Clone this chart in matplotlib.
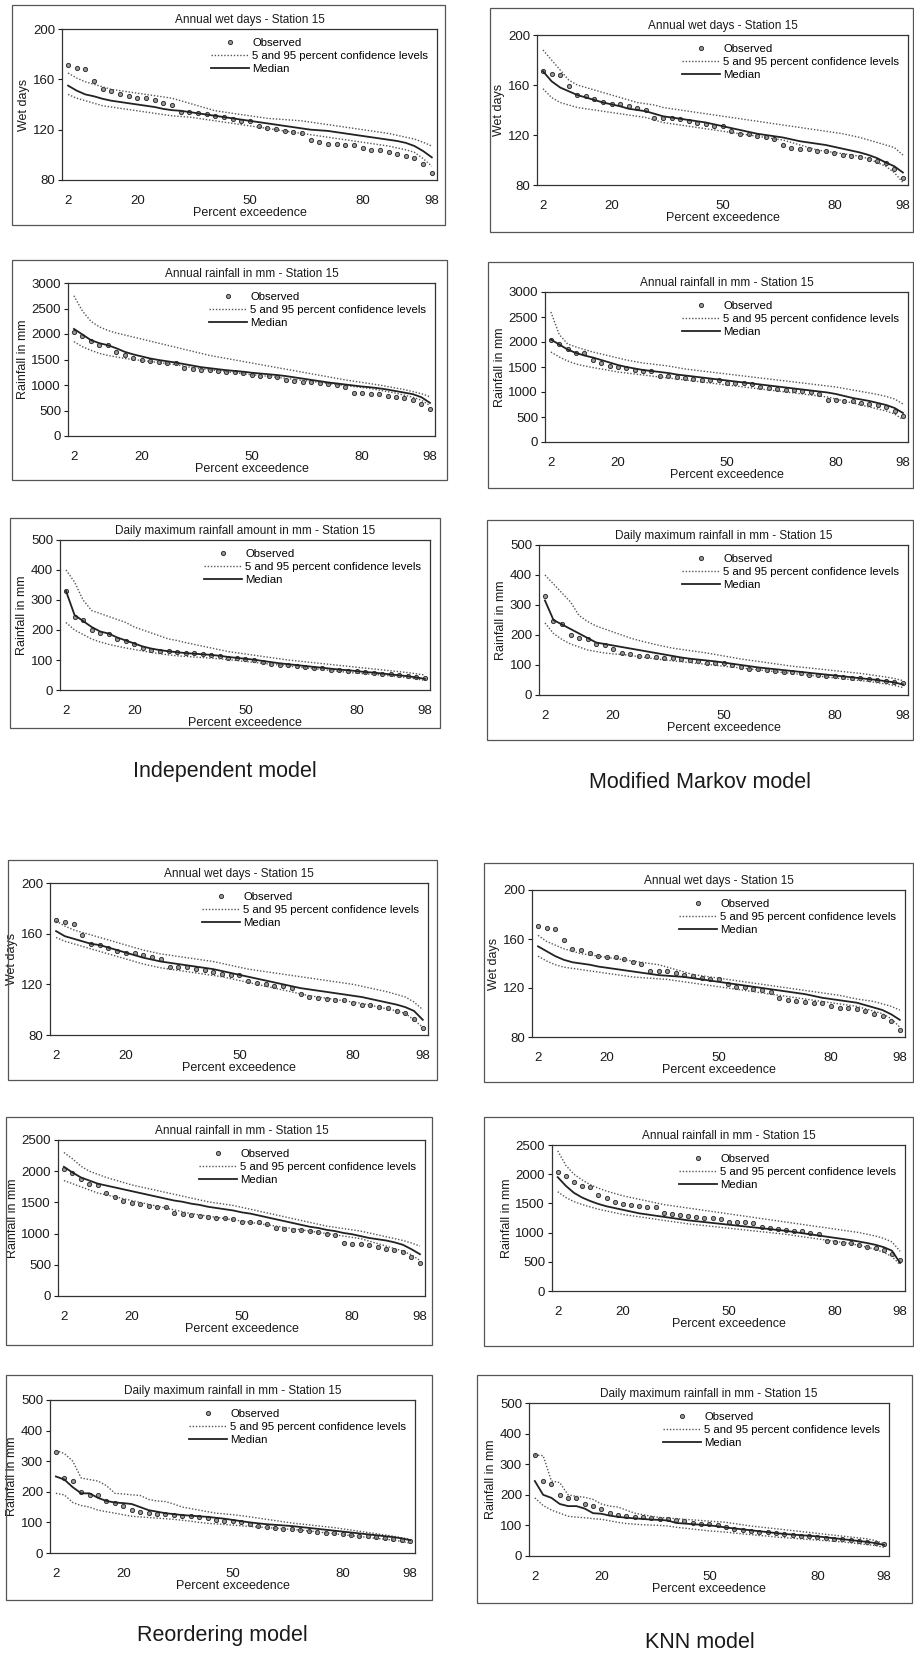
import numpy as np
import matplotlib
matplotlib.use("Agg")
import matplotlib.pyplot as plt
from matplotlib.patches import Rectangle

plt.rcParams['font.family'] = ['Liberation Sans', 'DejaVu Sans']

W, H = 914, 1655

# tick labels of the percent exceedence axis (rank positions 1, 9, 22, 35, 43)
tick_labels = ['2', '20', '50', '80', '98']
tick_ranks = [1, 9, 22, 35, 43]

# observed series (same for all models)
obs_wet = [171, 169, 168, 159, 152, 151, 148.5, 146.5, 145, 145,
           143.5, 141.5, 140, 134, 134, 133.5, 132.5, 131, 130, 128.5,
           127, 127, 123, 121, 120.5, 119, 118.5, 117, 112, 110,
           109, 108.5, 107.5, 107.5, 105.5, 104, 103.5, 102.5, 101, 99,
           97.5, 93, 85.5]
obs_rain = [2040, 1970, 1870, 1790, 1775, 1650, 1590, 1525, 1495, 1475,
            1450, 1430, 1430, 1330, 1315, 1300, 1285, 1265, 1250, 1250,
            1240, 1190, 1180, 1180, 1160, 1095, 1080, 1060, 1050, 1035,
            1020, 1000, 970, 850, 840, 830, 820, 785, 760, 740,
            710, 630, 530]
obs_dmax = [330, 245, 235, 200, 190, 188, 170, 165, 152, 140,
            135, 130, 129, 126, 124, 122, 121, 118, 114, 108,
            106, 105, 100, 94, 88, 85, 83, 79, 77, 75,
            73, 68, 66, 64, 62, 59, 57, 55, 52, 49,
            46, 44, 40]

# Independent model
indep_wet_lo = [148, 145, 143, 141, 139, 138, 137, 136, 135, 134,
                133, 132, 131, 130.5, 130, 129, 128, 127, 126, 125,
                124, 123, 122, 121, 120, 119, 118, 117, 116, 115,
                114, 113, 112, 111, 110, 109, 108, 107, 105.5, 104,
                102, 97, 91]
indep_wet_med = [155, 151, 148, 146.5, 144.5, 143, 142, 141, 140, 139,
                 138, 136.5, 135.5, 135, 134, 133, 132, 131, 130, 129,
                 128, 127, 126, 125, 124, 123, 122, 121, 120, 119.5,
                 119, 118, 117, 116, 115, 114, 113, 112, 111, 109.5,
                 107, 103, 98]
indep_wet_hi = [165, 161, 158, 156, 154, 152, 151, 150, 149, 148,
                147, 146, 145, 143, 141, 139, 137, 135, 134, 133,
                132, 131, 130, 129, 128.5, 128, 127.5, 127, 126, 125,
                124, 123, 122, 121, 120, 119, 118, 117, 115.5, 114,
                112.5, 110, 107]
indep_rain_lo = [1850, 1750, 1680, 1620, 1580, 1550, 1520, 1500, 1480, 1460,
                 1440, 1420, 1400, 1370, 1340, 1320, 1300, 1280, 1260, 1240,
                 1220, 1200, 1185, 1170, 1150, 1130, 1110, 1090, 1070, 1050,
                 1030, 1010, 990, 970, 950, 930, 900, 870, 840, 800,
                 760, 700, 600]
indep_rain_med = [2100, 1990, 1880, 1820, 1780, 1720, 1650, 1600, 1560, 1520,
                  1490, 1465, 1440, 1410, 1380, 1350, 1330, 1310, 1290, 1275,
                  1260, 1240, 1225, 1210, 1195, 1175, 1150, 1125, 1100, 1075,
                  1050, 1030, 1010, 990, 970, 955, 935, 910, 880, 850,
                  820, 760, 650]
indep_rain_hi = [2750, 2450, 2250, 2140, 2070, 2020, 1980, 1940, 1900, 1860,
                 1820, 1780, 1740, 1700, 1660, 1620, 1580, 1550, 1520, 1490,
                 1460, 1430, 1400, 1370, 1340, 1310, 1280, 1250, 1220, 1190,
                 1160, 1130, 1100, 1075, 1050, 1025, 1000, 970, 940, 910,
                 870, 830, 770]
indep_dmax_lo = [225, 200, 185, 170, 160, 152, 146, 140, 135, 130,
                 125, 121, 117, 114, 112, 110, 108, 106, 104, 101,
                 98, 95, 92, 89, 86, 83, 80, 77, 74, 71,
                 68, 65, 62, 59, 56, 54, 52, 50, 47, 44,
                 41, 37, 32]
indep_dmax_med = [330, 250, 230, 210, 195, 188, 175, 165, 155, 145,
                  138, 133, 129, 126, 123, 121, 119, 117, 114, 110,
                  107, 104, 101, 97, 93, 89, 86, 83, 80, 77,
                  74, 71, 68, 66, 63, 60, 58, 55, 52, 49,
                  46, 42, 37]
indep_dmax_hi = [400, 360, 300, 265, 255, 245, 235, 225, 210, 200,
                 190, 180, 170, 165, 158, 152, 146, 140, 134, 128,
                 124, 120, 116, 112, 108, 104, 100, 97, 94, 91,
                 88, 85, 82, 79, 76, 73, 70, 67, 64, 61,
                 58, 54, 50]

# Modified Markov model
markov_wet_lo = [157, 150, 146, 144, 142, 141, 140, 139, 138, 137,
                 136, 135, 134, 132, 130, 129, 128, 127, 126, 125,
                 124, 123, 122, 121, 120, 119, 118, 117, 116, 114,
                 112, 110, 108, 107, 106, 105, 104, 103, 101, 98,
                 95, 90, 82]
markov_wet_med = [171, 163, 158, 155, 152, 150, 148, 146, 144.5, 143,
                  141, 140, 139, 137, 135, 134, 133, 132, 131, 130,
                  128.5, 127, 125.5, 124, 122.5, 121, 120, 119, 118, 116.5,
                  115, 114, 113, 112, 110.5, 109, 107.5, 106, 104, 101.5,
                  98, 95, 90]
markov_wet_hi = [188, 180, 172, 164, 160, 158, 156, 154, 152, 150,
                 148, 146, 145, 144, 142, 141, 140, 139, 138, 137,
                 136, 135, 134, 133, 132, 131, 130, 129, 128, 127,
                 126, 125, 124, 123, 122, 121, 119.5, 118, 116, 114,
                 112, 110, 104]
markov_rain_lo = [1800, 1700, 1620, 1560, 1520, 1490, 1460, 1430, 1400, 1380,
                  1360, 1340, 1320, 1300, 1280, 1260, 1240, 1220, 1200, 1180,
                  1160, 1140, 1120, 1100, 1080, 1060, 1040, 1020, 1000, 980,
                  960, 940, 920, 900, 860, 820, 780, 740, 700, 660,
                  620, 560, 450]
markov_rain_med = [2050, 1950, 1850, 1780, 1730, 1690, 1640, 1590, 1540, 1500,
                   1470, 1440, 1420, 1400, 1380, 1350, 1330, 1310, 1290, 1270,
                   1250, 1230, 1210, 1190, 1170, 1150, 1130, 1110, 1090, 1070,
                   1050, 1030, 1010, 990, 960, 920, 880, 850, 820, 780,
                   740, 680, 580]
markov_rain_hi = [2600, 2150, 1960, 1900, 1850, 1800, 1760, 1720, 1680, 1640,
                  1610, 1580, 1560, 1540, 1520, 1490, 1460, 1440, 1420, 1400,
                  1380, 1360, 1340, 1320, 1300, 1280, 1260, 1240, 1220, 1200,
                  1180, 1160, 1140, 1120, 1100, 1070, 1040, 1010, 980, 950,
                  910, 860, 760]
markov_dmax_lo = [240, 205, 185, 170, 160, 150, 145, 140, 137, 135,
                  132, 128, 124, 120, 117, 114, 111, 108, 105, 102,
                  99, 96, 93, 90, 87, 84, 81, 78, 75, 72,
                  69, 66, 63, 60, 57, 54, 51, 48, 45, 41,
                  37, 32, 25]
markov_dmax_med = [315, 250, 235, 220, 205, 190, 175, 170, 165, 160,
                   155, 150, 145, 140, 135, 130, 125, 121, 118, 115,
                   112, 108, 104, 100, 96, 92, 89, 86, 83, 80,
                   77, 74, 71, 68, 65, 62, 59, 56, 53, 50,
                   46, 42, 35]
markov_dmax_hi = [400, 370, 340, 310, 265, 245, 230, 220, 210, 200,
                  190, 182, 175, 168, 162, 156, 152, 148, 144, 140,
                  135, 130, 125, 120, 116, 112, 108, 104, 100, 96,
                  93, 90, 87, 84, 81, 78, 75, 72, 68, 64,
                  60, 55, 48]

# Reordering model
reorder_wet_lo = [157, 154, 152, 150, 148, 146, 144, 142, 140, 138,
                  136, 134.5, 133, 132, 131, 130, 129, 128, 127, 126,
                  124.5, 123, 121.5, 120, 118.5, 117, 115.5, 114, 112.5, 111,
                  110, 109, 108, 107, 106, 105, 103.5, 102, 100.5, 99,
                  97, 92, 86]
reorder_wet_med = [162, 158, 156, 154, 152, 151, 149, 147, 145, 143,
                   141, 139.5, 138, 137, 136, 135, 134, 133, 132, 130.5,
                   129, 127.5, 126, 124.5, 123, 121.5, 120, 118.5, 117, 116,
                   115, 114, 113, 112, 111, 110, 108.5, 107, 105.5, 104,
                   102, 99, 92]
reorder_wet_hi = [170, 166, 163, 161, 159, 157, 155, 153, 151, 149,
                  147, 145.5, 144, 143, 142, 141, 140, 139, 138, 136.5,
                  135, 133.5, 132, 131, 130, 129, 128, 127, 126, 125,
                  124, 123, 122, 121, 120, 118.5, 117, 115.5, 114, 112,
                  110, 106, 100]
reorder_rain_lo = [1850, 1800, 1750, 1700, 1650, 1620, 1590, 1560, 1530, 1500,
                   1470, 1440, 1410, 1380, 1350, 1320, 1300, 1280, 1260, 1240,
                   1220, 1200, 1180, 1160, 1140, 1120, 1100, 1080, 1060, 1040,
                   1020, 1000, 980, 960, 940, 920, 880, 840, 800, 760,
                   720, 660, 570]
reorder_rain_med = [2070, 1980, 1900, 1850, 1800, 1770, 1740, 1710, 1680, 1650,
                    1620, 1590, 1560, 1530, 1510, 1480, 1460, 1430, 1410, 1390,
                    1370, 1340, 1320, 1290, 1260, 1230, 1200, 1170, 1140, 1110,
                    1090, 1060, 1040, 1010, 990, 960, 930, 910, 890, 860,
                    820, 750, 670]
reorder_rain_hi = [2300, 2200, 2080, 2000, 1950, 1900, 1860, 1820, 1780, 1750,
                   1720, 1690, 1660, 1630, 1600, 1570, 1540, 1510, 1490, 1470,
                   1450, 1420, 1390, 1360, 1330, 1300, 1270, 1240, 1210, 1180,
                   1150, 1120, 1100, 1080, 1060, 1040, 1010, 980, 950, 920,
                   890, 850, 800]
reorder_dmax_lo = [195, 190, 165, 155, 150, 140, 135, 130, 125, 120,
                   118, 116, 114, 112, 110, 107, 104, 100, 97, 95,
                   93, 91, 89, 87, 85, 83, 81, 79, 77, 75,
                   72, 69, 66, 63, 60, 57, 54, 51, 48, 45,
                   42, 38, 32]
reorder_dmax_med = [250, 240, 215, 195, 195, 180, 170, 165, 163, 160,
                    150, 140, 135, 130, 127, 124, 122, 120, 118, 115,
                    112, 108, 104, 100, 97, 94, 92, 90, 88, 85,
                    82, 79, 76, 73, 70, 67, 64, 61, 58, 55,
                    52, 48, 42]
reorder_dmax_hi = [335, 325, 300, 245, 240, 235, 220, 195, 193, 190,
                   188, 175, 170, 168, 160, 150, 145, 140, 135, 130,
                   128, 125, 122, 118, 114, 110, 106, 102, 98, 95,
                   92, 89, 86, 83, 79, 75, 71, 67, 63, 59,
                   55, 50, 45]

# KNN model
knn_wet_lo = [146, 142, 139, 137, 136, 135, 134, 133, 132, 131,
              130, 129, 128.5, 128, 127.5, 127, 126, 125, 124, 123,
              122, 121, 120, 119, 118, 117, 116, 115, 114, 113,
              112, 111, 110, 109, 108, 107, 106, 105, 103, 101,
              99, 95, 88]
knn_wet_med = [154, 150, 146, 143, 141, 140, 139, 137.5, 136.5, 135.5,
               134.5, 133.5, 132.5, 131.5, 130.5, 130, 129.5, 129, 128, 127,
               126, 125, 124, 123, 122, 121, 120, 119, 118, 117,
               116, 115, 113.5, 112, 111, 110, 109, 108, 106, 104,
               102, 98.5, 94]
knn_wet_hi = [163, 158, 155, 152, 150, 148, 147, 146, 145, 144,
              143, 142, 141, 140, 139, 137, 135, 133, 131, 130,
              129, 128, 127, 126, 125, 124, 123, 122, 121, 120,
              119, 118, 117, 116, 115, 114, 112.5, 111, 110, 109,
              107, 105, 102]
knn_rain_lo = [1700, 1600, 1530, 1480, 1440, 1400, 1370, 1340, 1310, 1290,
               1270, 1250, 1230, 1210, 1190, 1170, 1150, 1135, 1120, 1105,
               1090, 1075, 1060, 1045, 1030, 1015, 1000, 985, 970, 950,
               930, 910, 890, 870, 850, 830, 810, 780, 750, 710,
               660, 590, 450]
knn_rain_med = [1950, 1800, 1680, 1600, 1540, 1490, 1450, 1420, 1390, 1360,
                1330, 1310, 1290, 1270, 1250, 1230, 1210, 1195, 1180, 1165,
                1150, 1135, 1120, 1105, 1090, 1075, 1060, 1045, 1030, 1010,
                990, 970, 950, 930, 910, 890, 870, 845, 820, 790,
                750, 690, 480]
knn_rain_hi = [2400, 2150, 2000, 1900, 1820, 1760, 1710, 1670, 1630, 1600,
               1570, 1540, 1510, 1480, 1460, 1440, 1420, 1400, 1380, 1360,
               1340, 1320, 1300, 1280, 1260, 1240, 1220, 1200, 1180, 1160,
               1140, 1120, 1100, 1080, 1060, 1040, 1020, 1000, 970, 940,
               900, 840, 680]
knn_dmax_lo = [190, 165, 150, 140, 130, 127, 125, 122, 120, 115,
               110, 106, 104, 102, 101, 100, 98, 94, 91, 88,
               85, 82, 80, 78, 75, 72, 70, 67, 65, 62,
               60, 58, 56, 54, 52, 50, 48, 46, 43, 40,
               37, 34, 28]
knn_dmax_med = [245, 200, 190, 170, 163, 163, 155, 140, 138, 132,
                128, 125, 123, 121, 119, 118, 116, 108, 106, 104,
                102, 100, 97, 93, 90, 87, 84, 81, 78, 75,
                72, 70, 68, 66, 64, 61, 58, 55, 52, 49,
                46, 42, 36]
knn_dmax_hi = [330, 328, 245, 240, 200, 195, 192, 185, 170, 163,
               160, 150, 140, 135, 130, 126, 124, 122, 120, 118,
               116, 114, 112, 110, 106, 102, 98, 95, 92, 89,
               86, 83, 80, 77, 74, 71, 68, 65, 62, 59,
               56, 50, 40]

rank = np.arange(1, len(obs_wet) + 1)

fig = plt.figure(figsize=(W / 100, H / 100), dpi=100)
fig.patch.set_facecolor('white')


def px_rect(l, t, r, b):
    return [l / W, 1 - b / H, (r - l) / W, (b - t) / H]


def panel(plot_px, frame_px, title, ylabel, ylim, ystep, obs, lo, med, hi):
    l, t, r, b = frame_px
    fig.patches.append(Rectangle((l / W, 1 - b / H), (r - l) / W, (b - t) / H,
                                 transform=fig.transFigure, fill=False,
                                 edgecolor='#555555', linewidth=0.9))
    ax = fig.add_axes(px_rect(*plot_px))
    p_obs, = ax.plot(rank, obs, linestyle='none', marker='o', markersize=3.0,
                     markerfacecolor='#999999', markeredgecolor='#333333',
                     markeredgewidth=0.7)
    p_ci, = ax.plot(rank, lo, color='#555555', linestyle=(0, (1, 1.3)), lw=1.0)
    ax.plot(rank, hi, color='#555555', linestyle=(0, (1, 1.3)), lw=1.0)
    p_med, = ax.plot(rank, med, color='#222222', lw=1.3)
    ax.set_xlim(0.3, rank[-1] + 0.6)
    ax.set_ylim(*ylim)
    ax.set_yticks(np.arange(ylim[0], ylim[1] + 1, ystep))
    ax.set_xticks(tick_ranks)
    ax.set_xticklabels(tick_labels)
    ax.tick_params(axis='x', length=0, pad=11, labelsize=9.5, colors='#1a1a1a')
    ax.tick_params(axis='y', length=3, width=0.8, pad=2, labelsize=9.5,
                   colors='#1a1a1a')
    for s in ax.spines.values():
        s.set_color('#333333')
        s.set_linewidth(0.9)
    ax.set_title(title, fontsize=8.5, pad=4, color='#1a1a1a')
    ax.set_ylabel(ylabel, fontsize=9, labelpad=2, color='#1a1a1a')
    ax.set_xlabel('Percent exceedence', fontsize=9, labelpad=0, color='#1a1a1a')
    ax.legend([p_obs, p_ci, p_med],
              ['Observed', '5 and 95 percent confidence levels', 'Median'],
              loc='upper right', bbox_to_anchor=(1.0, 1.0), frameon=False,
              fontsize=8.2, handlelength=3.3, handletextpad=0.3,
              labelspacing=0.3, borderaxespad=0.35)
    return ax


wet_t = 'Annual wet days - Station 15'
rain_t = 'Annual rainfall in mm - Station 15'

# Independent model
panel((62, 29, 437, 180), (12, 5, 445, 225), wet_t, 'Wet days', (80, 200), 40,
      obs_wet, indep_wet_lo, indep_wet_med, indep_wet_hi)
panel((68, 283, 435, 436), (12, 260, 447, 480), rain_t, 'Rainfall in mm',
      (0, 3000), 500, obs_rain, indep_rain_lo, indep_rain_med, indep_rain_hi)
panel((60, 540, 430, 690), (10, 518, 440, 728),
      'Daily maximum rainfall amount in mm - Station 15', 'Rainfall in mm',
      (0, 500), 100, obs_dmax, indep_dmax_lo, indep_dmax_med, indep_dmax_hi)

# Modified Markov model
panel((537, 35, 908, 185), (490, 8, 913, 232), wet_t, 'Wet days', (80, 200), 40,
      obs_wet, markov_wet_lo, markov_wet_med, markov_wet_hi)
panel((545, 292, 908, 442), (488, 262, 913, 488), rain_t, 'Rainfall in mm',
      (0, 3000), 500, obs_rain, markov_rain_lo, markov_rain_med, markov_rain_hi)
panel((539, 545, 908, 695), (487, 520, 913, 740),
      'Daily maximum rainfall in mm - Station 15', 'Rainfall in mm',
      (0, 500), 100, obs_dmax, markov_dmax_lo, markov_dmax_med, markov_dmax_hi)

# Reordering model
panel((50, 883, 428, 1035), (8, 860, 437, 1080), wet_t, 'Wet days', (80, 200), 40,
      obs_wet, reorder_wet_lo, reorder_wet_med, reorder_wet_hi)
panel((58, 1140, 425, 1296), (6, 1117, 432, 1345), rain_t, 'Rainfall in mm',
      (0, 2500), 500, obs_rain, reorder_rain_lo, reorder_rain_med, reorder_rain_hi)
panel((50, 1400, 415, 1553), (6, 1375, 432, 1600),
      'Daily maximum rainfall in mm - Station 15', 'Rainfall in mm',
      (0, 500), 100, obs_dmax, reorder_dmax_lo, reorder_dmax_med, reorder_dmax_hi)

# KNN model
panel((532, 890, 905, 1037), (484, 863, 913, 1082), wet_t, 'Wet days', (80, 200), 40,
      obs_wet, knn_wet_lo, knn_wet_med, knn_wet_hi)
panel((552, 1145, 905, 1291), (484, 1117, 913, 1346), rain_t, 'Rainfall in mm',
      (0, 2500), 500, obs_rain, knn_rain_lo, knn_rain_med, knn_rain_hi)
panel((529, 1403, 889, 1556), (477, 1375, 912, 1603),
      'Daily maximum rainfall in mm - Station 15', 'Rainfall in mm',
      (0, 500), 100, obs_dmax, knn_dmax_lo, knn_dmax_med, knn_dmax_hi)

captions = [('Independent model', 225, 772), ('Modified Markov model', 700, 782),
            ('Reordering model', 222, 1636), ('KNN model', 700, 1642)]
for txt, cx, cy in captions:
    fig.text(cx / W, 1 - cy / H, txt, ha='center', va='center', fontsize=15.5,
             color='#1a1a1a')

fig.savefig('out.png', dpi=100, facecolor='white')
